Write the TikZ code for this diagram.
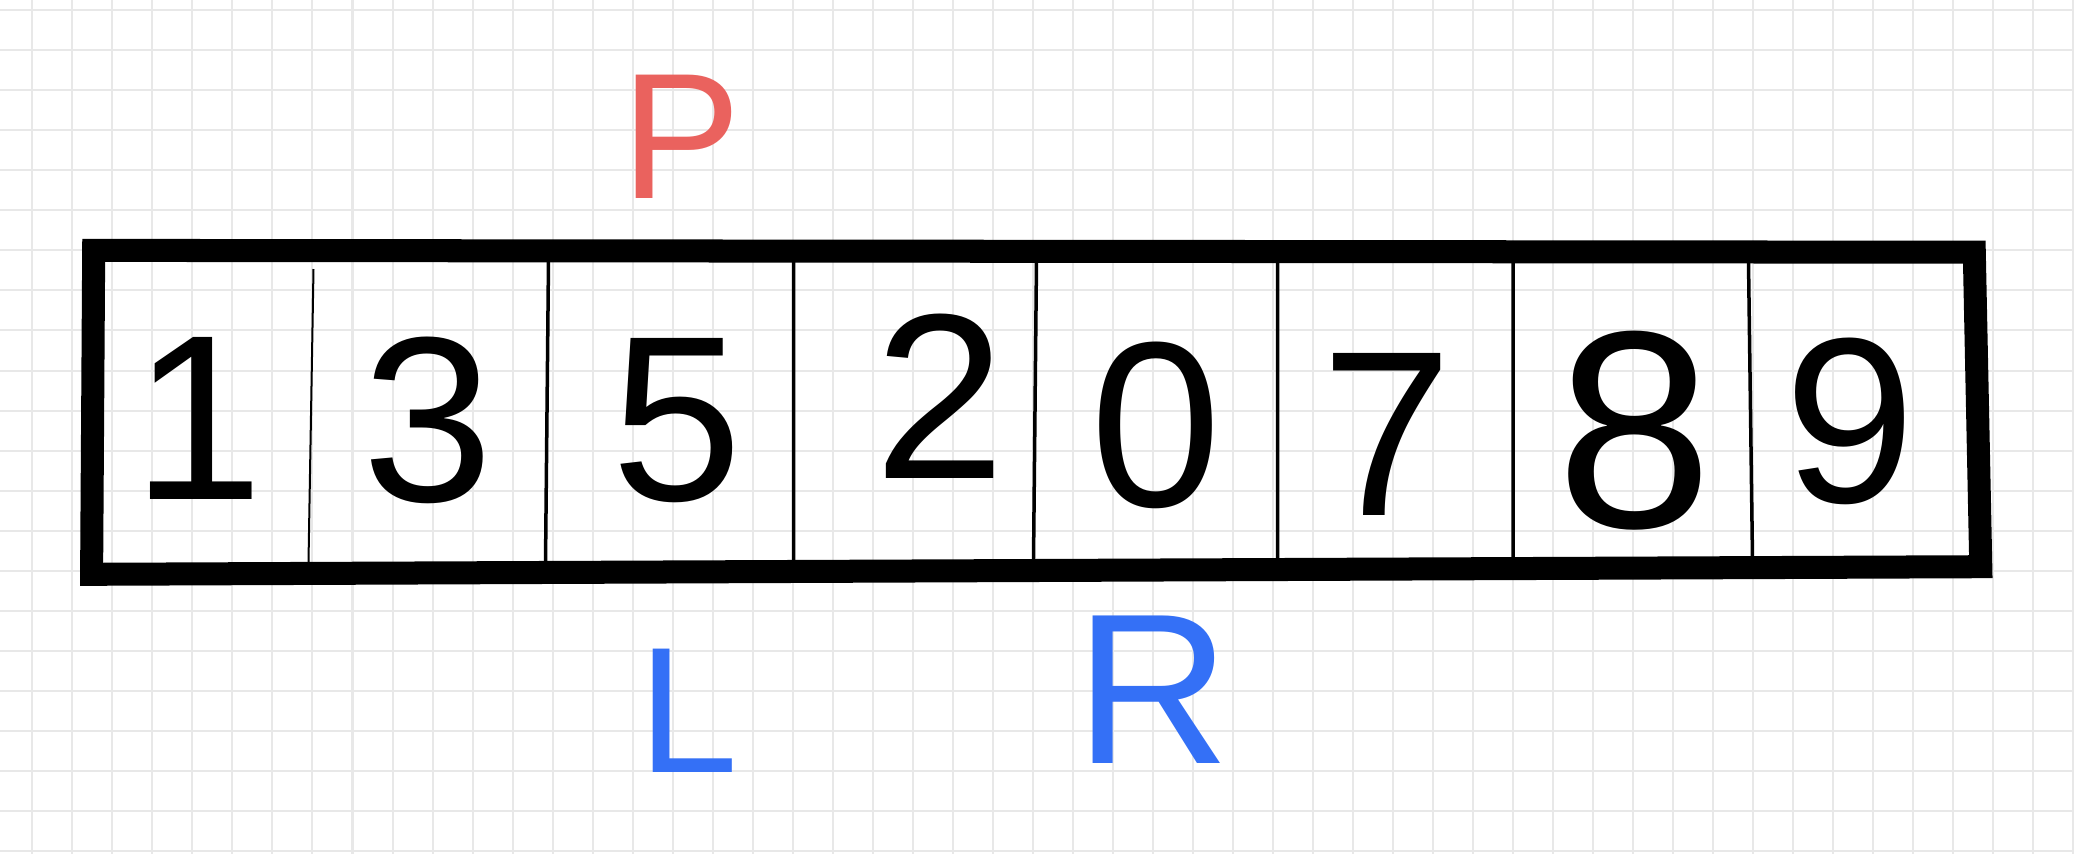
\documentclass[tikz,border=0pt]{standalone}
\usepackage{xcolor}
\usepackage{fontspec}
\setmainfont{Liberation Sans}
\usepackage{tikz}
\definecolor{gridgray}{RGB}{232,232,232}
\definecolor{markred}{RGB}{234,98,94}
\definecolor{markblue}{RGB}{52,112,246}

\begin{document}
\begin{tikzpicture}[x=0.01cm,y=-0.01cm,
  digit/.style={inner sep=0pt,font=\fontsize{67pt}{67pt}\selectfont},
  pointer/.style={inner sep=0pt,font=\fontsize{51pt}{51pt}\selectfont}]
 \useasboundingbox[fill=white] (0,0) rectangle (2074,854);
%	paper grid
 \begin{scope}
  \clip (0,0) rectangle (2074,854);
  \draw[gridgray,line width=0.02cm,step=0.4cm,xshift=0.323cm,yshift=-0.103cm]
		(-1cm,-10cm) grid (22cm,1cm);
 \end{scope}
%	outer frame
 \coordinate (tl) at (93.7,250.4);
 \coordinate (tr) at (1974.3,252.2);
 \coordinate (br) at (1980.8,566.7);
 \coordinate (bl) at (91.6,574.3);
 \draw[line width=0.23cm,line join=miter] (tl) -- (tr) -- (br) -- (bl) -- cycle;
%	first cell wall, the thin one
 \draw[line width=0.02cm] (313.5,269) -- (308.5,562);
 \draw[line width=0.035cm]
%	cell walls
		(548.5,260) -- (545.5,564)
		(793.5,260) -- (793.5,563)
		(1036.5,260) -- (1033.5,562)
		(1277.5,260) -- (1277.5,561)
		(1513,261) -- (1513,560)
		(1748.5,261) -- (1752.5,559)
%	numbers in the cells
		(198,418)node[digit](n1){1}
		(428,420)node[digit](n2){3}
		(677,421)node[digit](n3){5}
		(940,396)node[digit](n4){2}
		(1156,425)node[digit](n5){0}
		(1387,434)node[digit](n6){7}
		(1635,431)node[digit,font=\fontsize{80pt}{80pt}\selectfont](n7){8}
		(1850,421)node[digit](n8){9}
%	pointers
		(681,137)node[pointer,markred](p){P}
		(688,711)node[pointer,markblue](l){L}
		(1153,690)node[pointer,markblue,font=\fontsize{61pt}{61pt}\selectfont](r){R};
\end{tikzpicture}
\end{document}
